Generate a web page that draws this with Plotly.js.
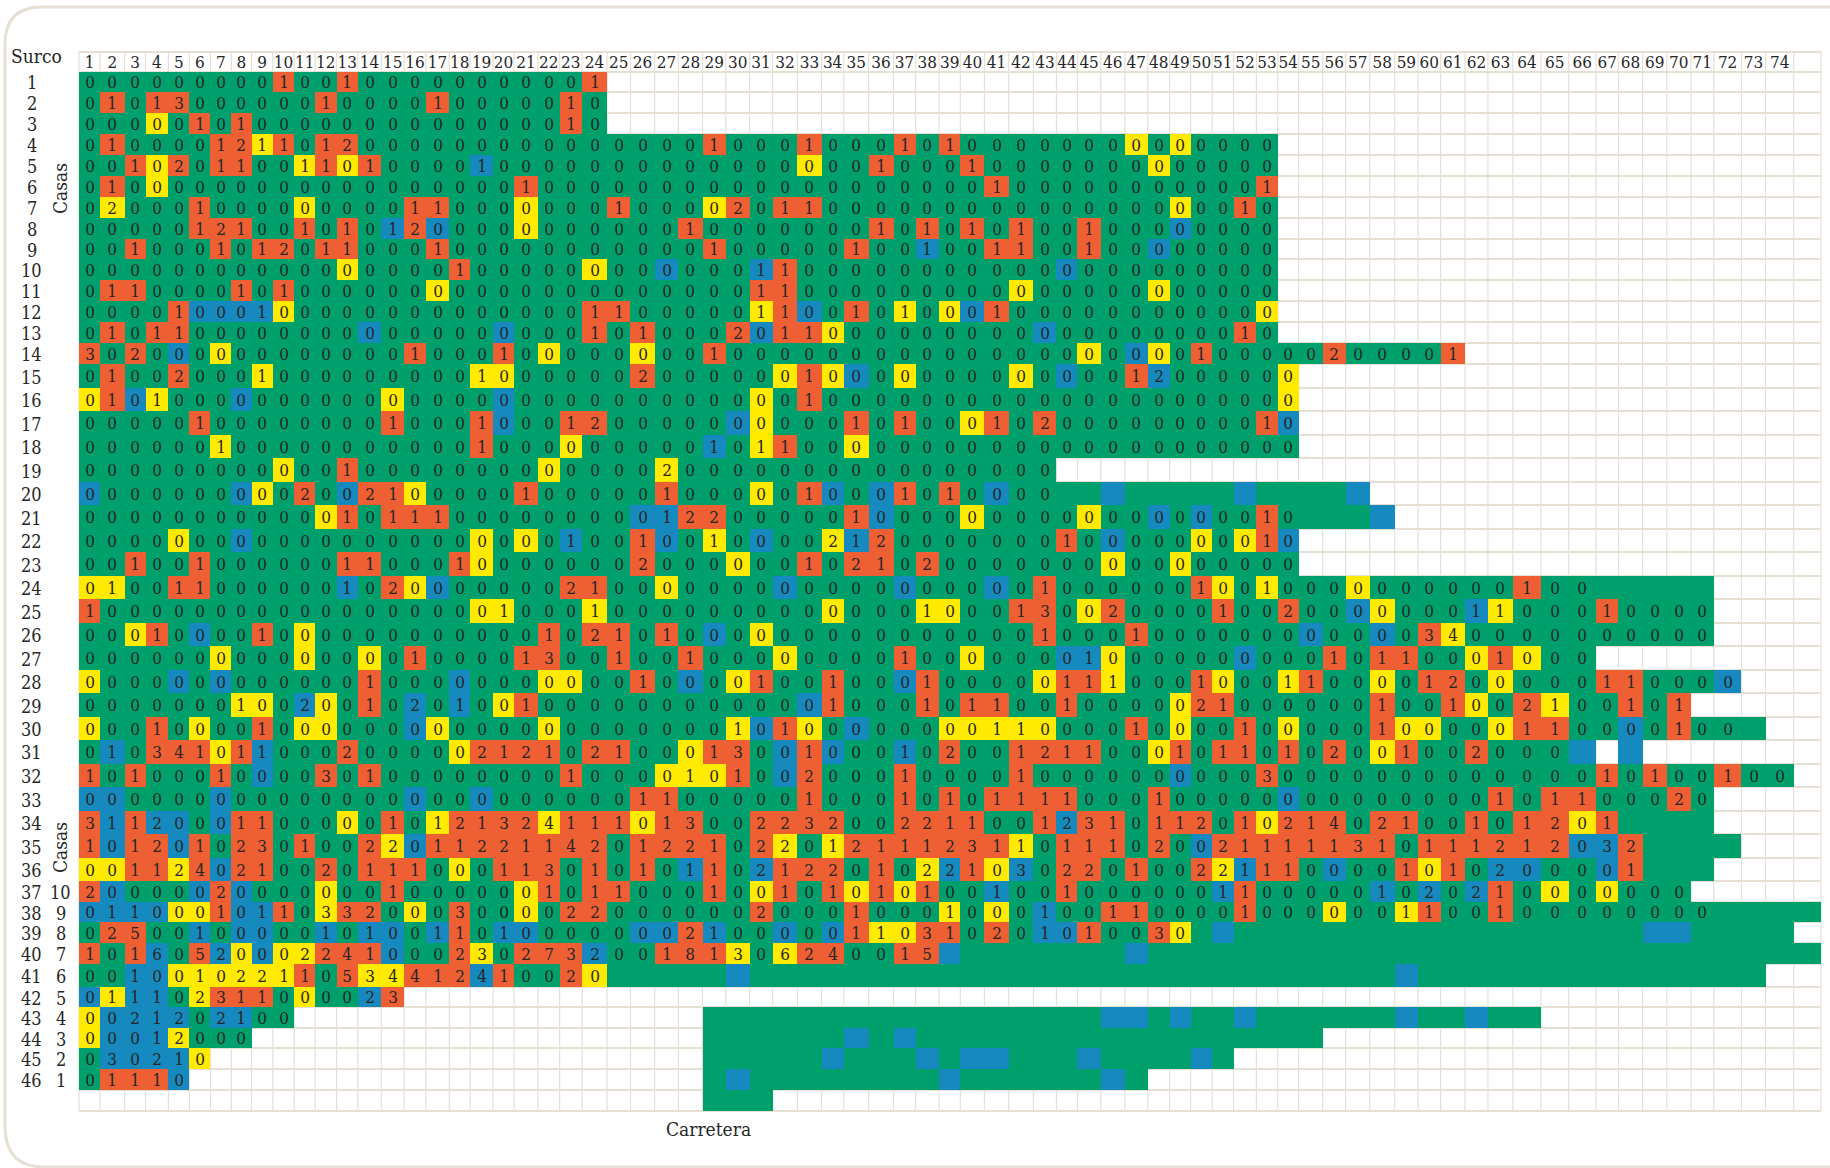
<!DOCTYPE html>
<html><head><meta charset="utf-8">
<script src="https://cdn.plot.ly/plotly-3.0.1.min.js"></script>
<style>html,body{margin:0;padding:0;background:#fff}</style></head>
<body><div id="chart" style="width:1830px;height:1168px"></div>
<script>
// Tick labels
const columnLabels = Array.from({length: 74}, (_, i) => String(i + 1));
const surcoLabels = Array.from({length: 46}, (_, i) => String(i + 1));
const casasLabels = ["10","9","8","7","6","5","4","3","2","1"];

// Colour classes of the cells
const classNames = ["G", "R", "Y", "B"];
const classColors = ["#00A06C", "#EE6033", "#FFEA00", "#1689BE"];

// Painted column spans of each surco (the last one is the unlabelled row)
const rowSpans = [
 [[1,24]],[[1,24]],[[1,24]],[[1,53]],[[1,53]],[[1,53]],[[1,53]],[[1,53]],[[1,53]],[[1,53]],
 [[1,53]],[[1,53]],[[1,53]],[[1,61]],[[1,54]],[[1,54]],[[1,54]],[[1,54]],[[1,43]],[[1,57]],
 [[1,58]],[[1,54]],[[1,54]],[[1,71]],[[1,71]],[[1,71]],[[1,66]],[[1,72]],[[1,70]],[[1,73]],
 [[1,66],[68,68]],[[1,74]],[[1,71]],[[1,71]],[[1,72]],[[1,71]],[[1,70]],[[1,75]],[[1,74]],[[1,75]],
 [[1,73]],[[1,15]],[[1,10],[29,64]],[[1,8],[29,55]],[[1,6],[29,51]],[[1,5],[29,47]],[[29,31]]
];
// Last column of each surco that carries a printed number
const numberedTo = [24,24,24,53,53,53,53,53,53,53,53,53,53,61,54,54,54,54,43,43,54,54,54,66,71,71,66,72,70,72,65,74,71,67,68,68,70,71,49,38,24,15,10,8,6,5,0];

// Non-green / non-zero cells of each surco: column, colour class, printed number.
// Every other numbered cell reads a green 0.
const rowCells = [
 "10R1 13R1 24R1",
 "2R1 4R1 5R3 12R1 17R1 23R1",
 "4Y0 6R1 8R1 23R1",
 "2R1 7R1 8R2 9Y1 10R1 12R1 13R2 29R1 33R1 37R1 39R1 47Y0 49Y0",
 "3R1 4Y0 5R2 7R1 8R1 11Y1 12R1 13Y0 14R1 19B1 33Y0 36R1 40R1 48Y0",
 "2R1 4Y0 21R1 41R1 53R1",
 "2Y2 6R1 11Y0 16R1 17R1 21Y0 25R1 29Y0 30R2 32R1 33R1 49Y0 52R1",
 "6R1 7R2 8R1 11R1 13R1 15B1 16R2 17B0 21Y0 28R1 36R1 38R1 40R1 42R1 45R1 49B0",
 "3R1 7R1 9R1 10R2 12R1 13R1 17R1 29R1 35R1 38B1 41R1 42R1 45R1 48B0",
 "13Y0 18R1 24Y0 27B0 31B1 32R1 44B0",
 "2R1 3R1 8R1 10R1 17Y0 31R1 32R1 42Y0 48Y0",
 "5R1 6B0 7B0 8B0 9B1 10Y0 24R1 25R1 31Y1 32R1 33B0 35R1 37Y1 39Y0 40B0 41R1 53Y0",
 "2R1 4R1 5R1 14B0 20B0 24R1 26R1 30R2 31B0 32R1 33R1 34Y0 43B0 52R1",
 "1R3 3R2 5B0 7Y0 16R1 20R1 22Y0 26Y0 29R1 45Y0 47B0 48Y0 50R1 56R2 61R1",
 "2R1 5R2 9Y1 19Y1 20Y0 26R2 32Y0 33R1 34Y0 35B0 37Y0 42Y0 44B0 47R1 48B2 54Y0",
 "1Y0 2R1 3B0 4Y1 8B0 15Y0 20B0 31Y0 33R1 54Y0",
 "6R1 15R1 19R1 20B0 23R1 24R2 30B0 31Y0 35R1 37R1 40Y0 41R1 43R2 53R1 54B0",
 "7Y1 19R1 23Y0 29B1 31Y1 32R1 35Y0",
 "10Y0 13R1 22Y0 27Y2",
 "1B0 8B0 9Y0 11R2 13B0 14R2 15R1 16Y0 21R1 27R1 31Y0 33R1 34B0 36B0 37R1 39R1 41B0 46B 52B 57B",
 "12Y0 13R1 15R1 16R1 17R1 26B0 27B1 28R2 29R2 35R1 36B0 40Y0 45Y0 48B0 50B0 53R1 58B",
 "5Y0 8B0 19Y0 21Y0 23B1 26R1 27B0 29Y1 31B0 34Y2 35B1 36R2 44R1 46B0 50Y0 52Y0 53R1 54B0",
 "3R1 6R1 13R1 14R1 18R1 19Y0 26R2 30Y0 33R1 35R2 36R1 38R2 46Y0 49Y0",
 "1Y0 2Y1 5R1 6R1 13B1 15R2 16Y0 17B0 23R2 24R1 27Y0 32B0 37B0 41B0 43R1 50R1 51Y0 53Y1 57Y0 64R1",
 "1R1 19Y0 20Y1 24Y1 34Y0 38Y1 39Y0 42R1 43R3 45Y0 46R2 51R1 54R2 57B0 58Y0 62B1 63Y1 67R1",
 "3Y0 4R1 6B0 9R1 11Y0 22R1 24R2 25R1 27R1 29B0 31Y0 43R1 47R1 55B0 58B0 60R3 61Y4",
 "7Y0 11Y0 14Y0 16R1 21R1 22R3 25R1 28R1 32Y0 37R1 40Y0 44B0 45B1 46Y0 52B0 56R1 58R1 59R1 62Y0 63R1 64Y0",
 "1Y0 5B0 7B0 14R1 18B0 22Y0 23Y0 26R1 28B0 30Y0 31R1 34R1 37B0 38R1 43Y0 44R1 45R1 46Y1 50R1 51Y0 54Y1 55R1 58Y0 60R1 61R2 63Y0 67R1 68R1 72B0",
 "8Y1 9Y0 11B2 12Y0 14R1 16B2 18B1 20Y0 21R1 33B0 34R1 38R1 40R1 41R1 44R1 49Y0 50R2 51R1 58R1 61R1 62Y0 64R2 65Y1 68R1 70R1",
 "1Y0 4R1 6Y0 9R1 11Y0 12Y0 16B0 17Y0 22Y0 30Y1 31B0 32R1 33Y0 35B0 39Y0 40Y0 41Y1 42Y1 43Y0 47R1 49Y0 52R1 54Y0 58R1 59Y0 60Y0 63Y0 64R1 65R1 68B0 70R1",
 "2B1 4R3 5R4 6R1 7Y0 8R1 9B1 13R2 18Y0 19R2 20R1 21R2 22R1 24R2 25R1 28Y0 29R1 30R3 32B0 33R1 34B0 37B1 39R2 42R1 43R2 44R1 45R1 48Y0 49R1 51R1 52R1 54R1 56R2 58Y0 59R1 62R2 66B 68B",
 "1R1 3R1 7R1 9B0 12R3 14R1 23R1 27Y0 28Y1 29Y0 30R1 32B0 33R2 37R1 42R1 49B0 53R3 67R1 69R1 72R1",
 "1B0 2B0 7B0 16B0 19B0 26R1 27R1 33R1 37R1 39R1 41R1 42R1 43R1 44R1 48R1 54B0 63R1 65R1 66R1 70R2",
 "1R3 2B1 3R1 4B2 5B0 7B0 8R1 9R1 13Y0 15R1 17Y1 18R2 19R1 20R3 21R2 22Y4 23R1 24R1 25R1 26Y0 27R1 28R3 31R2 32R2 33R3 34R2 37R2 38R2 39R1 40R1 43R1 44B2 45R3 46R1 48R1 49R1 50R2 52R1 53Y0 54R2 55R1 56R4 58R2 59R1 62R1 64R1 65R2 66Y0 67R1",
 "1R1 2B0 3R1 4R2 5B0 6R1 8R2 9R3 11R1 14R2 15Y2 16B0 17R1 18R1 19R2 20R2 21R1 22R1 23R4 24R2 26R1 27R2 28R2 29R1 31R2 32Y2 34Y1 35R2 36R1 37R1 38R1 39R2 40R3 41R1 42Y1 44R1 45R1 46R1 48R2 50B0 51R2 52R1 53R1 54R1 55R1 56R1 57R3 58R1 60R1 61R1 62R1 63R2 64R1 65R2 66B0 67B3 68R2",
 "1Y0 2Y0 3R1 4R1 5Y2 6R4 7B0 8R2 9R1 12R2 14R1 15R1 16R1 18Y0 20R1 21R1 22R3 24R1 26R1 28B1 29R1 31B2 32R1 33R2 34R2 36R1 38Y2 39B2 40R1 41Y0 42B3 44R2 45R2 47R1 50R2 51Y2 52B1 53R1 54R1 56B0 59R1 60Y0 61R1 63B2 64B0 67B0 68R1",
 "1R2 2B0 6B0 7R2 8B0 12Y0 15R1 21Y0 22R1 24R1 25R1 29R1 31Y0 32R1 34R1 35Y0 36R1 37Y0 38R1 41B1 44R1 51B1 52R1 58B1 60B2 62B2 63R1 65Y0 67Y0",
 "1B0 2B1 3B1 4B0 5Y0 6Y0 7R1 8B0 9B1 10R1 12Y3 13R3 14R2 16Y0 18R3 21Y0 23R2 24R2 31R2 35R1 39Y1 41Y0 43B1 46R1 47R1 52R1 56Y0 59Y1 60R1 63R1",
 "2R2 3R5 6B1 8B0 9B0 12B1 14B1 15B0 17B1 18R1 20B1 21B0 26B0 27B0 28R2 29B1 32B0 34B0 35R1 36Y1 37Y0 38R3 39R1 41R2 43B1 44B0 45R1 48R3 49Y0 51B 69B 70B",
 "1R1 3R1 4B6 6R5 7B2 8Y0 9B0 10Y0 11Y2 12R2 13R4 14R1 15B0 18R2 19Y3 21R2 22R7 23R3 24B2 27R1 28R8 29R1 30Y3 32Y6 33R2 34R4 37R1 38R5 39B 47B",
 "3B1 4B0 5Y0 6Y1 7Y0 8Y2 9Y2 10Y1 11R1 13R5 14Y3 15Y4 16R4 17R1 18R2 19B4 20R1 23R2 24Y0 30B 59B",
 "1B0 2Y1 3B1 4B1 6Y2 7R3 8R1 9R1 11Y0 14B2 15R3",
 "1Y0 2B0 3B2 4B1 5B2 7B2 8B1 46B 47B 49B 52B 59B 62B",
 "1Y0 2B0 3B0 4B1 5Y2 35B 37B",
 "2B3 3B0 4B2 5B1 6Y0 34B 38B 40B 41B 45B 50B",
 "2R1 3R1 4R1 5B0 30B 39B 46B",
 ""
];

// Page-pixel scale of the hand-ruled sheet: its columns and rows are not equal in size.
const colEdges = [79,100,124.6,145.5,168.4,189.4,210.4,231.3,251.5,272.8,294.2,315.1,336.5,357.8,381.2,404.1,425.8,449.2,470.1,493,514,537.8,559.5,582,607,630.4,654.6,678.3,702.4,725.7,749.5,772.4,797.3,821.4,843.6,868.5,893.4,915.5,938.9,960.2,984.3,1008.5,1033.3,1056.3,1077.3,1100.6,1124.7,1147.6,1169.4,1190.4,1212,1233.3,1256.2,1277.5,1298.4,1322.5,1345.4,1369.5,1394.5,1417.8,1440.3,1464.8,1487.7,1512.6,1540.7,1568.4,1595.7,1618.2,1642.3,1666.5,1690.6,1713.5,1741.2,1765.3,1793.4,1820.7];
const rowEdges = [72,92,113,134,155,176,197,218,239,259,280,301,322,343,364,388,411,435,458,482,505,529,552,576,599,623,646,670,693,717,740,764,787,811,834,858,881,902,922,943,964,987,1007,1028,1048,1069,1090,1111];
const headerTop = 52;
const W = 1830, H = 1168;
const L = colEdges[0], R = colEdges[colEdges.length - 1], T = rowEdges[0], B = rowEdges[rowEdges.length - 1];
const FONT = '"DejaVu Serif Condensed","DejaVu Serif","Liberation Serif",serif';
const INK = "#262626", RULE = "#E6DFD3";

const px = x => (x - L) / (R - L);
const py = y => (B - y) / (B - T);
const mid = (a, i) => (a[i] + a[i + 1]) / 2;

// Build the cell matrices
const z = [], text = [];
rowCells.forEach((cells, r) => {
  const zr = new Array(75).fill(null), tr = new Array(75).fill("");
  rowSpans[r].forEach(([a, b]) => { for (let c = a; c <= b; c++) zr[c - 1] = 0; });
  for (let c = 1; c <= numberedTo[r]; c++) tr[c - 1] = "0";
  cells.split(" ").filter(Boolean).forEach(tok => {
    const m = tok.match(/^(\d+)([GRYB])(\d?)$/);
    const c = +m[1];
    zr[c - 1] = classNames.indexOf(m[2]);
    tr[c - 1] = m[3];
  });
  z.push(zr); text.push(tr);
});

const colorscale = [];
classColors.forEach((col, i) => { colorscale.push([i / 4, col], [(i + 1) / 4, col]); });

const trace = {
  type: "heatmap", x: colEdges, y: rowEdges, z, text,
  texttemplate: "%{text}",
  textfont: {family: FONT, size: 17, color: INK},
  colorscale, zmin: -0.5, zmax: 3.5, showscale: false,
  hoverongaps: false, hovertemplate: "Surco %{y}<extra></extra>", zsmooth: false
};

// Ruled grid under the cells
const shapes = [];
colEdges.forEach(x => shapes.push({type: "line", layer: "below", xref: "paper", yref: "paper",
  x0: px(x), x1: px(x), y0: py(headerTop), y1: py(B), line: {color: RULE, width: 1.2}}));
[headerTop].concat(rowEdges).forEach(y => shapes.push({type: "line", layer: "below", xref: "paper", yref: "paper",
  x0: px(L), x1: px(R), y0: py(y), y1: py(y), line: {color: RULE, width: 2.2}}));
// Rounded page frame
shapes.push({type: "path", layer: "below", xref: "paper", yref: "paper",
  path: `M ${px(W + 5)} ${py(7)} L ${px(42)} ${py(7)} Q ${px(5)} ${py(7)} ${px(5)} ${py(44)} L ${px(5)} ${py(1126)} Q ${px(5)} ${py(1167)} ${px(44)} ${py(1167)} L ${px(W + 5)} ${py(1167)}`,
  line: {color: RULE, width: 3}});

const annotation = (label, x, y, extra) => Object.assign({
  text: label, xref: "paper", yref: "paper", x: px(x), y: py(y), xanchor: "center", yanchor: "middle",
  showarrow: false, font: {family: FONT, size: 18, color: INK}
}, extra || {});

const annotations = [];
surcoLabels.forEach((t, i) => annotations.push(annotation(t, 32, mid(rowEdges, i) + 1)));
casasLabels.forEach((t, i) => annotations.push(annotation(t, 61, mid(rowEdges, 36 + i) + 1)));
annotations.push(annotation("Surco", 37, 56, {font: {family: FONT, size: 19, color: INK}}));
annotations.push(annotation("Casas", 60, 188, {textangle: -90, font: {family: FONT, size: 19, color: INK}}));
annotations.push(annotation("Casas", 60, 847, {textangle: -90, font: {family: FONT, size: 19, color: INK}}));
annotations.push(annotation("Carretera", 708, 1129, {font: {family: FONT, size: 19, color: INK}}));

const layout = {
  width: W, height: H, autosize: false,
  margin: {l: L, r: W - R, t: T, b: H - B, pad: 0},
  paper_bgcolor: "rgba(0,0,0,0)", plot_bgcolor: "rgba(0,0,0,0)",
  xaxis: {side: "top", range: [L, R], tickmode: "array",
    tickvals: columnLabels.map((_, i) => mid(colEdges, i)), ticktext: columnLabels,
    ticks: "", showgrid: false, zeroline: false, showline: false, fixedrange: true,
    tickangle: 0, automargin: false, tickfont: {family: FONT, size: 17, color: INK}},
  yaxis: {range: [B, T], showticklabels: false, ticks: "", showgrid: false, zeroline: false,
    showline: false, fixedrange: true, automargin: false},
  shapes, annotations, showlegend: false
};
Plotly.newPlot("chart", [trace], layout, {displayModeBar: false, staticPlot: false});
</script></body></html>
